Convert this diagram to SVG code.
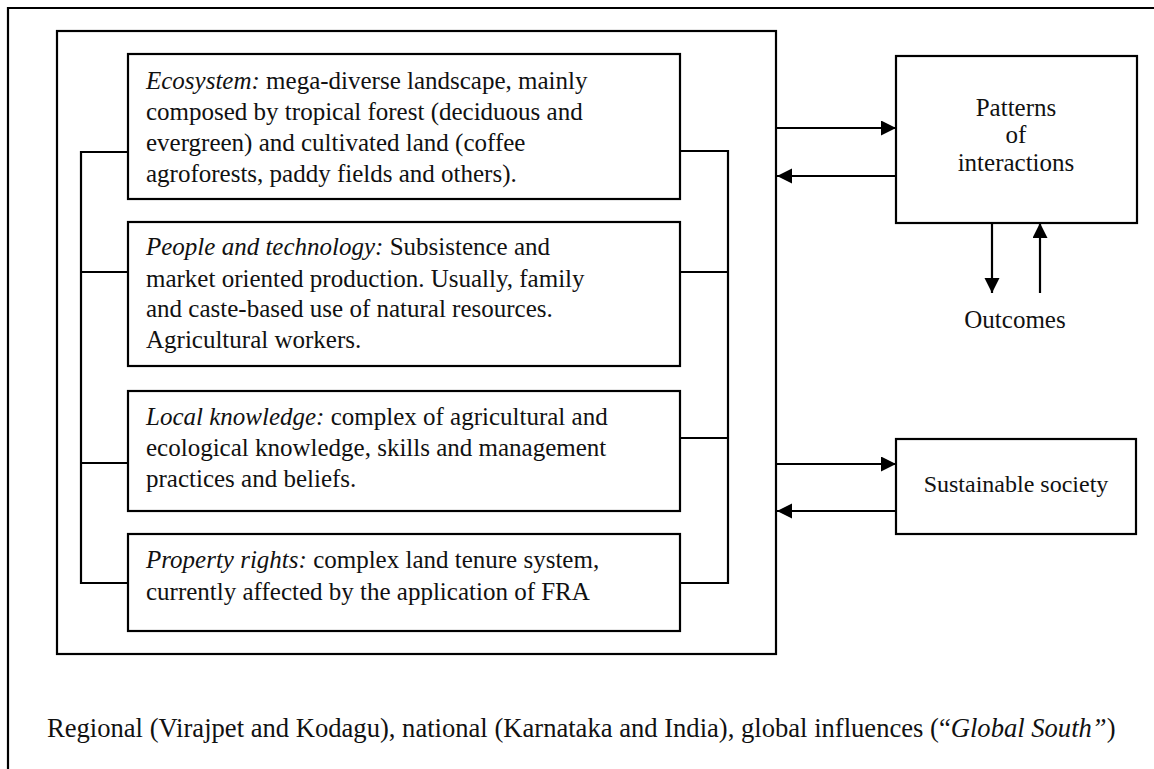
<svg xmlns="http://www.w3.org/2000/svg" width="1154" height="769" viewBox="0 0 1154 769">
  <style>
    .frame { fill: none; stroke: #000; stroke-width: 2.2; }
    .box { fill: #fff; stroke: #000; stroke-width: 2.2; }
    .link { fill: none; stroke: #000; stroke-width: 2.2; }
    .txt { font-family: "Liberation Serif", "Times New Roman", serif; font-size: 25px; fill: #111; }
    .mid { text-anchor: middle; }
    .it { font-style: italic; }
  </style>
  <defs>
    <marker id="arrow" markerUnits="userSpaceOnUse" markerWidth="16" markerHeight="16" refX="15" refY="7.5" orient="auto">
      <path d="M0,0 L15,7.5 L0,15 Z" fill="#000"/>
    </marker>
  </defs>

  <rect width="1154" height="769" fill="#fff"/>

  <!-- outer context frame (open at right and bottom) -->
  <path class="frame" d="M8,769 V8 H1154"/>

  <!-- local social-ecological system container -->
  <g id="system">
    <rect class="box" x="57" y="31" width="719" height="623"/>
  </g>

  <!-- brackets and arrows -->
  <g id="connectors">
    <path class="link" d="M128,152 H81 V583 H128 M81,272 H128 M81,463 H128"/>
    <path class="link" d="M680,151 H728 V583 H680 M680,272 H728 M680,438 H728"/>
    <line class="link" x1="777" y1="128" x2="896" y2="128" marker-end="url(#arrow)"/>
    <line class="link" x1="896" y1="176" x2="777" y2="176" marker-end="url(#arrow)"/>
    <line class="link" x1="992" y1="223" x2="992" y2="293" marker-end="url(#arrow)"/>
    <line class="link" x1="1040" y1="293" x2="1040" y2="223" marker-end="url(#arrow)"/>
    <line class="link" x1="777" y1="464" x2="896" y2="464" marker-end="url(#arrow)"/>
    <line class="link" x1="896" y1="511" x2="777" y2="511" marker-end="url(#arrow)"/>
  </g>

  <g id="ecosystem">
    <rect class="box" x="128" y="54" width="552" height="145"/>
    <text class="txt" x="146" y="89"><tspan class="it">Ecosystem:</tspan> mega-diverse landscape, mainly</text>
    <text class="txt" x="146" y="120">composed by tropical forest (deciduous and</text>
    <text class="txt" x="146" y="151">evergreen) and cultivated land (coffee</text>
    <text class="txt" x="146" y="182">agroforests, paddy fields and others).</text>
  </g>

  <g id="people-technology">
    <rect class="box" x="128" y="222" width="552" height="144"/>
    <text class="txt" x="146" y="255"><tspan class="it">People and technology:</tspan> Subsistence and</text>
    <text class="txt" x="146" y="287">market oriented production. Usually, family</text>
    <text class="txt" x="146" y="317">and caste-based use of natural resources.</text>
    <text class="txt" x="146" y="348">Agricultural workers.</text>
  </g>

  <g id="local-knowledge">
    <rect class="box" x="128" y="391" width="552" height="120"/>
    <text class="txt" x="146" y="425"><tspan class="it">Local knowledge:</tspan> complex of agricultural and</text>
    <text class="txt" x="146" y="456">ecological knowledge, skills and management</text>
    <text class="txt" x="146" y="487">practices and beliefs.</text>
  </g>

  <g id="property-rights">
    <rect class="box" x="128" y="534" width="552" height="97"/>
    <text class="txt" x="146" y="568"><tspan class="it">Property rights:</tspan> complex land tenure system,</text>
    <text class="txt" x="146" y="600">currently affected by the application of FRA</text>
  </g>

  <g id="patterns">
    <rect class="box" x="896" y="56" width="241" height="167"/>
    <text class="txt mid" x="1016" y="116">Patterns</text>
    <text class="txt mid" x="1016" y="143">of</text>
    <text class="txt mid" x="1016" y="171">interactions</text>
  </g>

  <g id="outcomes">
    <text class="txt mid" x="1015" y="328">Outcomes</text>
  </g>

  <g id="sustainable-society">
    <rect class="box" x="896" y="439" width="240" height="95"/>
    <text class="txt mid" x="1016" y="492" style="font-size:24px">Sustainable society</text>
  </g>

  <g id="influences">
    <text class="txt" x="47" y="737" style="font-size:26.6px">Regional (Virajpet and Kodagu), national (Karnataka and India), global influences (“<tspan class="it">Global South”</tspan>)</text>
  </g>
</svg>
